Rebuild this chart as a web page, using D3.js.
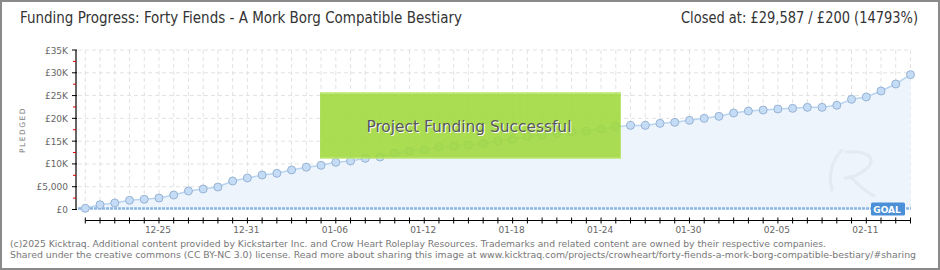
<!DOCTYPE html>
<html>
<head>
<meta charset="utf-8">
<script src="https://cdn.jsdelivr.net/npm/d3@7"></script>
<style>
  body { margin: 0; background: #fff; }
  svg { display: block; }
</style>
</head>
<body>
<svg id="chart" width="940" height="270"></svg>
<script>
// daily pledged totals, Dec 20 -> Feb 14
const startDate = "2024-12-20";
const pledged = [
  260, 1050, 1430, 2020, 2240, 2520, 3180, 4060, 4500, 4940,
  6250, 6910, 7570, 7940, 8670, 9280, 9690, 10350, 10640, 11230,
  11520, 12330, 12840, 13130, 13710, 13930, 14150, 14520, 15030, 15400,
  16060, 16350, 16720, 17070, 17230, 17660, 18170, 18460, 18460, 18900,
  19130, 19570, 20000, 20440, 21170, 21610, 21830, 22050, 22200, 22420,
  22420, 22860, 24180, 24690, 26000, 27540, 29587
];
const goal = 200;
const yTicks = [0, 5000, 10000, 15000, 20000, 25000, 30000, 35000];
const yTickLabels = ["£0", "£5,000", "£10K", "£15K", "£20K", "£25K", "£30K", "£35K"];
const xLabels = ["12-25", "12-31", "01-06", "01-12", "01-18", "01-24", "01-30", "02-05", "02-11"];

const parse = d3.timeParse("%Y-%m-%d");
const day0 = parse(startDate);
const data = pledged.map((v, i) => ({date: d3.timeDay.offset(day0, i), value: v}));

const svg = d3.select("#chart");
const W = 940, H = 270;

// frame
svg.append("rect").attr("x", 1).attr("y", 1).attr("width", W - 2).attr("height", H - 2)
  .attr("fill", "#fff").attr("stroke", "#8a8a8a").attr("stroke-width", 2);

const x = d3.scaleTime()
  .domain([data[0].date, data[data.length - 1].date])
  .range([85.3, 910.5]);
const y = d3.scaleLinear().domain([0, 35000]).range([209.5, 50]);

// grid
const allDays = data.map(d => d.date);
svg.append("g").selectAll("line").data(allDays).join("line")
  .attr("x1", d => x(d)).attr("x2", d => x(d))
  .attr("y1", y(35000)).attr("y2", y(0))
  .attr("stroke", "#e2e2e2").attr("stroke-dasharray", "4,3");
svg.append("g").selectAll("line").data(yTicks.slice(1)).join("line")
  .attr("x1", 78).attr("x2", 911)
  .attr("y1", d => y(d)).attr("y2", d => y(d))
  .attr("stroke", "#e2e2e2").attr("stroke-dasharray", "4,3");

// area + line
const area = d3.area().x(d => x(d.date)).y0(y(0)).y1(d => y(d.value));
svg.append("path").datum(data).attr("d", area).attr("fill", "#edf4fc");

// faint watermark
svg.append("path")
  .attr("d", "M842,150 C832,160 828,175 832,190 M846,152 C870,150 880,160 862,172 C855,177 848,178 845,178 M850,176 C858,185 866,192 874,196")
  .attr("fill", "none").attr("stroke", "#e3eaf2").attr("stroke-width", 3).attr("stroke-linecap", "round");

const line = d3.line().x(d => x(d.date)).y(d => y(d.value));
svg.append("path").datum(data).attr("d", line)
  .attr("fill", "none").attr("stroke", "#b9d4f1").attr("stroke-width", 1.5);

// goal line
svg.append("line").attr("x1", 78).attr("x2", 911)
  .attr("y1", y(goal)).attr("y2", y(goal))
  .attr("stroke", "#8db7e6").attr("stroke-width", 2.5).attr("stroke-dasharray", "3,1");

// points
svg.append("g").selectAll("circle").data(data).join("circle")
  .attr("cx", d => x(d.date)).attr("cy", d => y(d.value)).attr("r", 4)
  .attr("fill", "#c5dcf6").attr("stroke", "#97b3d3").attr("stroke-width", 1);

// success banner
const bx = x(parse("2025-01-05")) - 1, bx2 = x(parse("2025-01-25")) + 5;
svg.append("rect").attr("x", bx).attr("y", 92.5).attr("width", bx2 - bx).attr("height", 66)
  .attr("fill", "#9fd83b").attr("fill-opacity", 0.88);
svg.append("line").attr("x1", bx).attr("x2", bx2).attr("y1", 93).attr("y2", 93)
  .attr("stroke", "#c3ea82").attr("stroke-width", 1.5);
svg.append("line").attr("x1", bx).attr("x2", bx2).attr("y1", 158).attr("y2", 158)
  .attr("stroke", "#c3ea82").attr("stroke-width", 1);
const bannerText = "Project Funding Successful";
const bcx = (bx + bx2) / 2 - 2;
svg.append("text").attr("x", bcx - 102 + 1).attr("y", 133)
  .attr("font-family", "DejaVu Sans Condensed, DejaVu Sans").attr("font-size", 16)
  .attr("textLength", 205).attr("lengthAdjust", "spacingAndGlyphs")
  .attr("fill", "#fff").text(bannerText);
svg.append("text").attr("x", bcx - 102).attr("y", 132)
  .attr("font-family", "DejaVu Sans Condensed, DejaVu Sans").attr("font-size", 16)
  .attr("textLength", 205).attr("lengthAdjust", "spacingAndGlyphs")
  .attr("fill", "#585858").text(bannerText);

// goal badge
const gx = 871, gy = 202.5;
svg.append("rect").attr("x", gx).attr("y", gy).attr("width", 34).attr("height", 13).attr("rx", 1.5)
  .attr("fill", "#4a8fd8");
svg.append("text").attr("x", gx + 16).attr("y", gy + 10).attr("text-anchor", "middle")
  .attr("font-family", "DejaVu Sans").attr("font-size", 9).attr("font-weight", "bold")
  .attr("fill", "#fff").text("GOAL");

// y axis
const yAxis = svg.append("g").attr("transform", "translate(76,0)");
yAxis.append("line").attr("y1", y(35000)).attr("y2", y(0) + 0.5)
  .attr("stroke", "#000").attr("stroke-width", 1.2);
yAxis.selectAll(".major").data(yTicks).join("line").attr("class", "major")
  .attr("x1", -4).attr("x2", 1).attr("y1", d => y(d)).attr("y2", d => y(d))
  .attr("stroke", "#000");
yAxis.selectAll(".minor").data(yTicks.slice(0, -1).map(d => d + 2500)).join("line").attr("class", "minor")
  .attr("x1", -3).attr("x2", 0).attr("y1", d => y(d)).attr("y2", d => y(d))
  .attr("stroke", "#e00000");
yAxis.selectAll("text").data(yTicks).join("text")
  .attr("x", -8).attr("y", d => y(d) + 3.5).attr("text-anchor", "end")
  .attr("font-family", "DejaVu Sans").attr("font-size", 9).attr("fill", "#666")
  .text((d, i) => yTickLabels[i]);

svg.append("text").attr("transform", "translate(25,130) rotate(-90)")
  .attr("text-anchor", "middle").attr("font-family", "DejaVu Sans").attr("font-size", 7.5)
  .attr("letter-spacing", 1.5).attr("fill", "#777").text("PLEDGED");

// x axis
const xAxis = svg.append("g").attr("transform", "translate(0,220.5)");
xAxis.append("line").attr("x1", x(data[0].date)).attr("x2", x(data[data.length - 1].date))
  .attr("stroke", "#000").attr("stroke-width", 1.2);
xAxis.selectAll(".tk").data(allDays).join("line").attr("class", "tk")
  .attr("x1", d => x(d)).attr("x2", d => x(d)).attr("y1", -3).attr("y2", 3)
  .attr("stroke", "#000");
const fmt = d3.timeFormat("%m-%d");
xAxis.selectAll("text").data(allDays.filter(d => xLabels.includes(fmt(d)))).join("text")
  .attr("x", d => x(d) - 1).attr("y", 12).attr("text-anchor", "middle")
  .attr("font-family", "DejaVu Sans").attr("font-size", 9).attr("fill", "#666")
  .text(d => fmt(d));

// titles
svg.append("text").attr("x", 20).attr("y", 23)
  .attr("font-family", "DejaVu Sans Condensed, DejaVu Sans").attr("font-size", 15).attr("fill", "#333")
  .attr("textLength", 442).attr("lengthAdjust", "spacingAndGlyphs")
  .text("Funding Progress: Forty Fiends - A Mork Borg Compatible Bestiary");
svg.append("text").attr("x", 918).attr("y", 23).attr("text-anchor", "end")
  .attr("font-family", "DejaVu Sans Condensed, DejaVu Sans").attr("font-size", 15).attr("fill", "#333")
  .attr("textLength", 237).attr("lengthAdjust", "spacingAndGlyphs")
  .text("Closed at:  £29,587 /  £200 (14793%)");

// footer
svg.append("text").attr("x", 10).attr("y", 246.5)
  .attr("font-family", "DejaVu Sans").attr("font-size", 9.5).attr("fill", "#777")
  .attr("textLength", 816).attr("lengthAdjust", "spacingAndGlyphs")
  .text("(c)2025 Kicktraq. Additional content provided by Kickstarter Inc. and Crow Heart Roleplay Resources. Trademarks and related content are owned by their respective companies.");
svg.append("text").attr("x", 10).attr("y", 258)
  .attr("font-family", "DejaVu Sans").attr("font-size", 9.5).attr("fill", "#777")
  .attr("textLength", 906).attr("lengthAdjust", "spacingAndGlyphs")
  .text("Shared under the creative commons (CC BY-NC 3.0) license. Read more about sharing this image at www.kicktraq.com/projects/crowheart/forty-fiends-a-mork-borg-compatible-bestiary/#sharing");
</script>
</body>
</html>
